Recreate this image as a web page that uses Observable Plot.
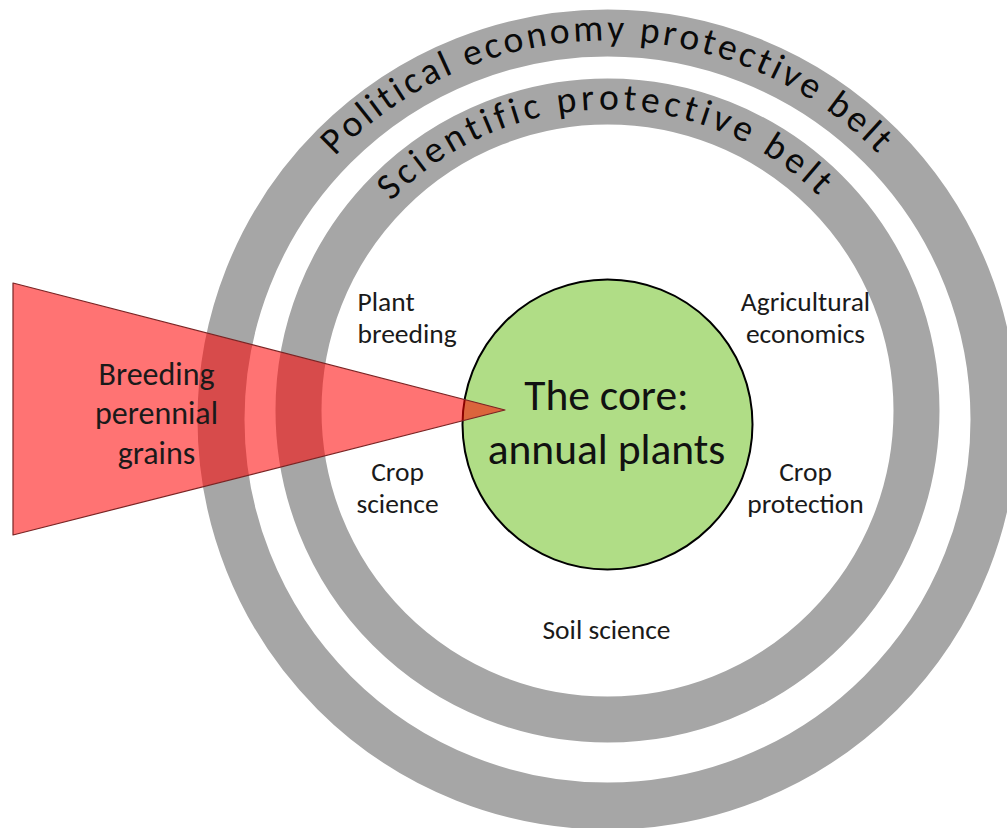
<!DOCTYPE html>
<html><head><meta charset="utf-8">
<script src="https://cdn.jsdelivr.net/npm/d3@7"></script>
<script src="https://cdn.jsdelivr.net/npm/@observablehq/plot@0.6"></script>
<style>
html,body{margin:0;padding:0;background:#fff;}
#chart svg{display:block;}
</style></head><body><div id="chart"></div>
<script>
const FONT = "Calibri, Carlito, Lato, sans-serif";

// Protective belts (rings): outer = political economy, inner = scientific
const beltNames   = ["Political economy protective belt", "Scientific protective belt"];
const beltCX      = [607, 607];
const beltCY      = [419, 410];
const beltInnerR  = [363, 286];
const beltOuterR  = [410, 332];
const beltTextR   = [379, 301];
const beltTextA0  = [-46, -46];   // degrees clockwise from top
const beltTextA1  = [45.5, 44.5];

// The core
const coreLabel = ["The core:\nannual plants"];
const coreCX = [607], coreCY = [424], coreR = [145];
const coreLabelX = [606], coreLabelY = [463];

// Research programme fields
const fieldLabels  = ["Plant\nbreeding", "Agricultural\neconomics", "Crop\nscience", "Crop\nprotection", "Soil science"];
const fieldX       = [357, 805, 397, 805, 606];
const fieldY       = [342, 342, 512, 512, 638];
const fieldAnchor  = ["start", "middle", "middle", "middle", "middle"];

// Breeding perennial grains wedge
const wedgeLabel = ["Breeding\nperennial\ngrains"];
const wedgeLabelX = [156], wedgeLabelY = [463];
const wedgeX  = [13, 505];
const wedgeY1 = [283, 410];
const wedgeY2 = [535, 410];

const ARC_FONT = 37.5;
const ctx = document.createElement("canvas").getContext("2d");
function arcChars(text, cx, cy, r, a0, a1, size) {
  ctx.font = `${size}px ${FONT}`;
  const chars = Array.from(text);
  const w = chars.map(c => ctx.measureText(c).width);
  const W = d3.sum(w);
  const L = r * (a1 - a0) * Math.PI / 180;
  const gap = (L - W) / (chars.length - 1);
  let s = 0;
  return chars.map((c, i) => {
    const mid = s + w[i] / 2;
    s += w[i] + gap;
    const ang = a0 + (mid / r) * 180 / Math.PI;
    const rad = ang * Math.PI / 180;
    return {c, x: cx + r * Math.sin(rad), y: cy - r * Math.cos(rad), rot: ang};
  });
}

const belts = beltNames.map((name, i) => ({
  name, cx: beltCX[i], cy: beltCY[i],
  r: (beltInnerR[i] + beltOuterR[i]) / 2, w: beltOuterR[i] - beltInnerR[i]
}));
const beltChars = beltNames.flatMap((name, i) =>
  arcChars(name, beltCX[i], beltCY[i], beltTextR[i], beltTextA0[i], beltTextA1[i], ARC_FONT));
const core = coreCX.map((x, i) => ({x, y: coreCY[i], r: coreR[i]}));
const coreText = coreLabel.map((t, i) => ({t, x: coreLabelX[i], y: coreLabelY[i]}));
const fields = fieldLabels.map((t, i) => ({t, x: fieldX[i], y: fieldY[i], a: fieldAnchor[i]}));
const wedge = wedgeX.map((x, i) => ({x, y1: wedgeY1[i], y2: wedgeY2[i]}));

const chart = Plot.plot({
  width: 1007, height: 828, margin: 0,
  x: {domain: [0, 1007], axis: null},
  y: {domain: [0, 828], range: [0, 828], axis: null},
  r: {type: "identity"},
  style: {background: "#fff"},
  marks: [
    ...belts.map(b => Plot.dot([b], {x: "cx", y: "cy", r: "r", fill: "none", stroke: "#a6a6a6", strokeWidth: b.w})),
    Plot.dot(core, {x: "x", y: "y", r: "r", fill: "#b0dd86", stroke: "#000", strokeWidth: 2}),
    Plot.areaY(wedge, {x: "x", y1: "y1", y2: "y2", fill: "#ff0000", fillOpacity: 0.55, stroke: "#7a2424", strokeWidth: 1.2}),
    Plot.text(beltChars, {x: "x", y: "y", text: "c", rotate: "rot", fontSize: ARC_FONT, fontFamily: FONT,
      textAnchor: "middle", lineAnchor: "bottom", fill: "#0a0a0a", ariaLabel: "belt-label"}),
    Plot.text(coreText, {x: "x", y: "y", text: "t", fontSize: 43.5, fontFamily: FONT, lineHeight: 1.22,
      textAnchor: "middle", lineAnchor: "bottom", fill: "#111"}),
    ...fields.map(f => Plot.text([f], {x: "x", y: "y", text: "t", fontSize: 27.5, fontFamily: FONT, lineHeight: 1.13,
      textAnchor: f.a, lineAnchor: "bottom", fill: "#1a1a1a"})),
    Plot.text(wedgeLabel.map((t, i) => ({t, x: wedgeLabelX[i], y: wedgeLabelY[i]})),
      {x: "x", y: "y", text: "t", fontSize: 32, fontFamily: FONT, lineHeight: 1.22,
       textAnchor: "middle", lineAnchor: "bottom", fill: "#1a1a1a"})
  ]
});
d3.select(chart).selectAll('g[aria-label="belt-label"]').style("filter", "drop-shadow(2px 2px 2px rgba(0,0,0,0.6))");
document.getElementById("chart").appendChild(chart);
</script></body></html>
